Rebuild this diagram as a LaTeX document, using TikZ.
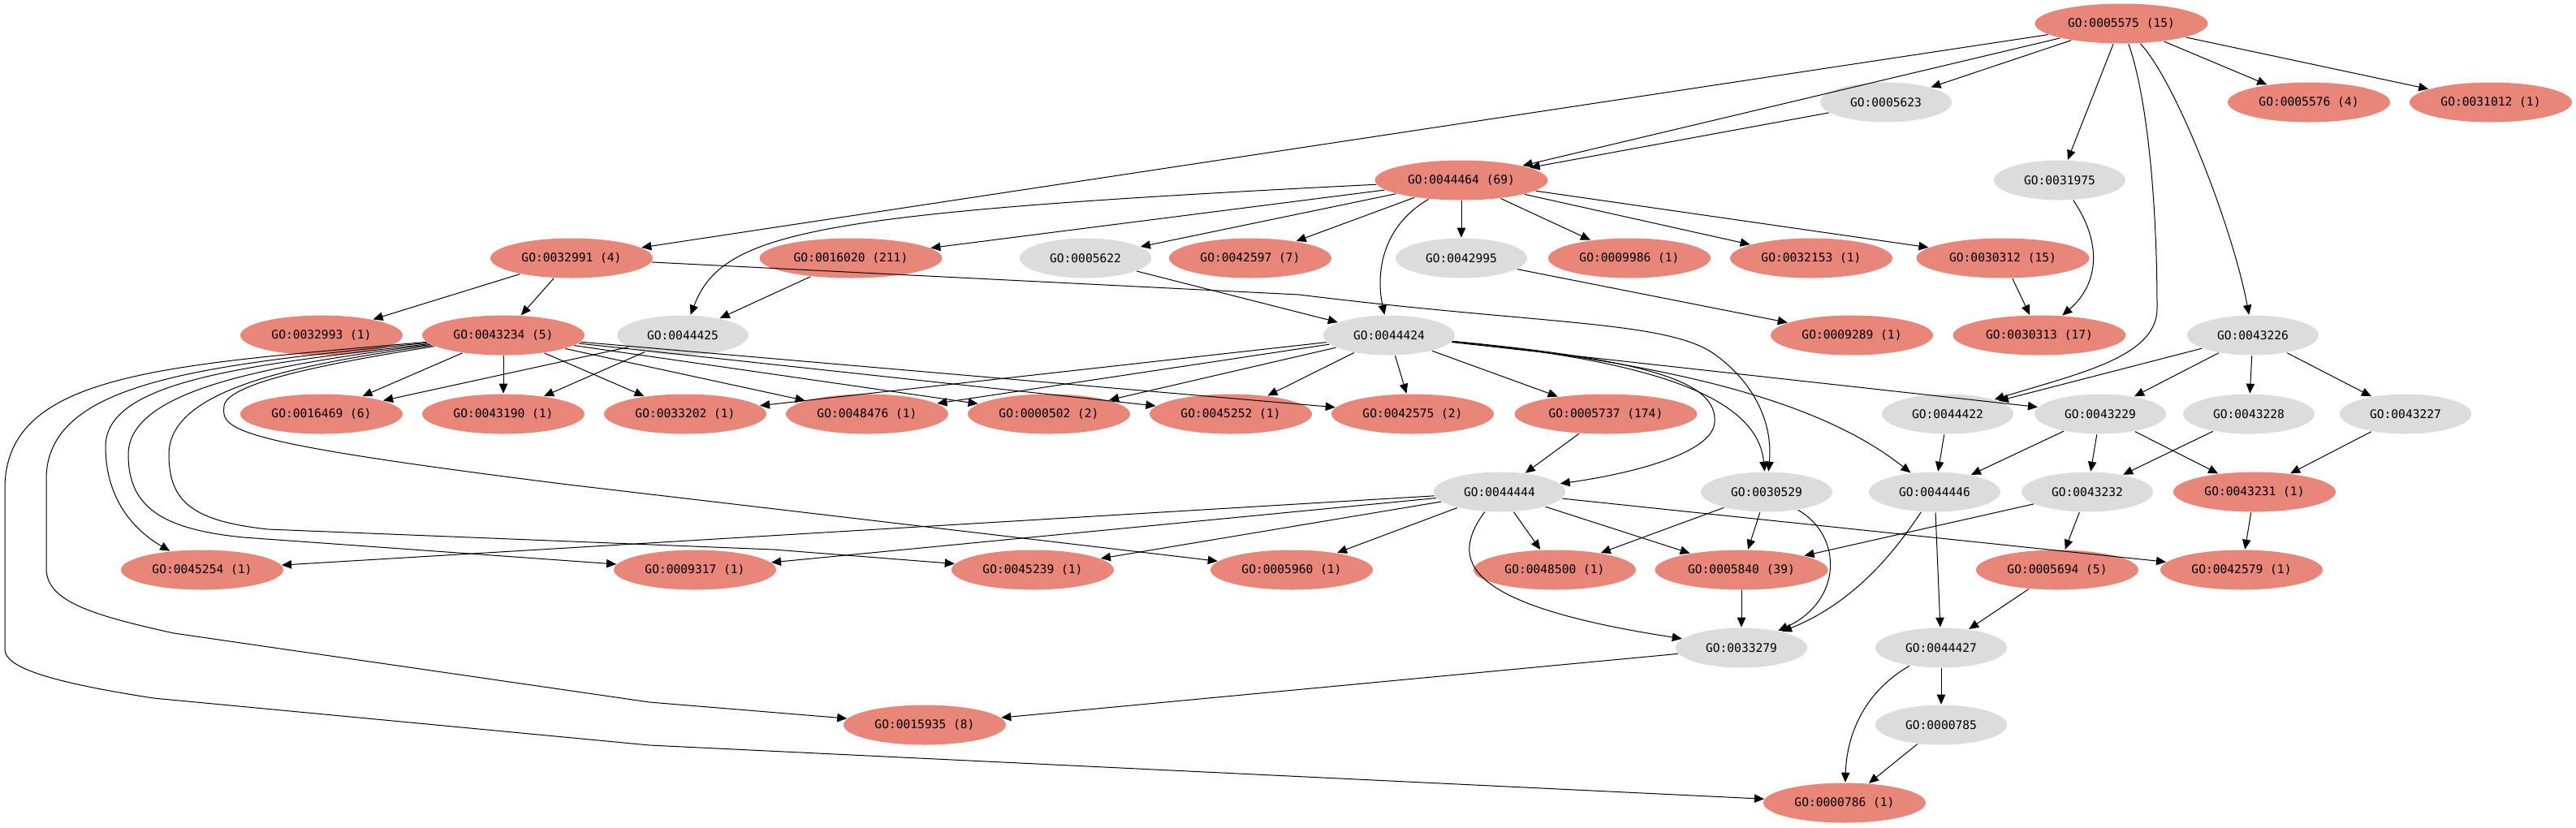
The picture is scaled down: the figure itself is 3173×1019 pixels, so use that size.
\documentclass[tikz,border=0pt]{standalone}
\usepackage{fontspec}
\newfontfamily\gomono{DejaVu Sans Mono}
\usetikzlibrary{shapes.geometric,arrows.meta}
\definecolor{salmonc}{RGB}{232,134,122}
\definecolor{grayc}{RGB}{220,220,220}
\tikzset{
  go/.style={ellipse, inner sep=0pt, minimum height=12.25pt, font=\gomono\fontsize{3.65pt}{4pt}\selectfont},
  hit/.style={go, fill=salmonc},
  plain/.style={go, fill=grayc},
  wA/.style={minimum width=40.5pt},
  wB/.style={minimum width=50pt},
  wC/.style={minimum width=53.25pt},
  wD/.style={minimum width=56.25pt},
  edge/.style={-{Triangle[length=3pt,width=2.6pt]}, line width=0.25pt, black}
}
\begin{document}
\begin{tikzpicture}[x=0.25pt,y=-0.25pt]
\useasboundingbox (0,0) rectangle (3173,1019);
% row 0
\node[hit,wC] (n5575) at (2613,29) {GO:0005575 (15)};
% row 1
\node[plain,wA] (n5623) at (2323,126) {GO:0005623};
\node[hit,wB] (n5576) at (2844,126) {GO:0005576 (4)};
\node[hit,wB] (n31012) at (3068,126) {GO:0031012 (1)};
% row 2
\node[hit,wC] (n44464) at (1800,222) {GO:0044464 (69)};
\node[plain,wA] (n31975) at (2537,222) {GO:0031975};
% row 3
\node[hit,wB] (n32991) at (704,318) {GO:0032991 (4)};
\node[hit,wD] (n16020) at (1048,318) {GO:0016020 (211)};
\node[plain,wA] (n5622) at (1337,318) {GO:0005622};
\node[hit,wB] (n42597) at (1540,318) {GO:0042597 (7)};
\node[plain,wA] (n42995) at (1800,318) {GO:0042995};
\node[hit,wB] (n9986) at (2007,318) {GO:0009986 (1)};
\node[hit,wB] (n32153) at (2231,318) {GO:0032153 (1)};
\node[hit,wC] (n30312) at (2467,318) {GO:0030312 (15)};
% row 4
\node[hit,wB] (n32993) at (396,413) {GO:0032993 (1)};
\node[hit,wB] (n43234) at (620,413) {GO:0043234 (5)};
\node[plain,wA] (n44425) at (841,413) {GO:0044425};
\node[plain,wA] (n44424) at (1711,413) {GO:0044424};
\node[hit,wB] (n9289) at (2281,413) {GO:0009289 (1)};
\node[hit,wC] (n30313) at (2512,413) {GO:0030313 (17)};
\node[plain,wA] (n43226) at (2775,413) {GO:0043226};
% row 5
\node[hit,wB] (n16469) at (396,510) {GO:0016469 (6)};
\node[hit,wB] (n43190) at (620,510) {GO:0043190 (1)};
\node[hit,wB] (n33202) at (844,510) {GO:0033202 (1)};
\node[hit,wB] (n48476) at (1068,510) {GO:0048476 (1)};
\node[hit,wB] (n502) at (1292,510) {GO:0000502 (2)};
\node[hit,wB] (n45252) at (1516,510) {GO:0045252 (1)};
\node[hit,wB] (n42575) at (1740,510) {GO:0042575 (2)};
\node[hit,wD] (n5737) at (1978,510) {GO:0005737 (174)};
\node[plain,wA] (n44422) at (2399,510) {GO:0044422};
\node[plain,wA] (n43229) at (2587,510) {GO:0043229};
\node[plain,wA] (n43228) at (2770,510) {GO:0043228};
\node[plain,wA] (n43227) at (2963,510) {GO:0043227};
% row 6
\node[plain,wA] (n44444) at (1847,606) {GO:0044444};
\node[plain,wA] (n30529) at (2176,606) {GO:0030529};
\node[plain,wA] (n44446) at (2383,606) {GO:0044446};
\node[plain,wA] (n43232) at (2571,606) {GO:0043232};
\node[hit,wB] (n43231) at (2777,606) {GO:0043231 (1)};
% row 7
\node[hit,wB] (n45254) at (249,702) {GO:0045254 (1)};
\node[hit,wB] (n9317) at (856,702) {GO:0009317 (1)};
\node[hit,wB] (n45239) at (1272,702) {GO:0045239 (1)};
\node[hit,wB] (n5960) at (1591,702) {GO:0005960 (1)};
\node[hit,wB] (n48500) at (1915,702) {GO:0048500 (1)};
\node[hit,wC] (n5840) at (2145,702) {GO:0005840 (39)};
\node[hit,wB] (n5694) at (2534,702) {GO:0005694 (5)};
\node[hit,wB] (n42579) at (2761,702) {GO:0042579 (1)};
% row 8
\node[plain,wA] (n33279) at (2145,798) {GO:0033279};
\node[plain,wA] (n44427) at (2391,798) {GO:0044427};
% row 9
\node[hit,wB] (n15935) at (1139,893) {GO:0015935 (8)};
\node[plain,wA] (n785) at (2391,893) {GO:0000785};
% row 10
\node[hit,wB] (n786) at (2272,989) {GO:0000786 (1)};

% ---- edges ----
% root
\draw[edge] (n5575) -- (n32991);
\draw[edge] (n5575) -- (n44464);
\draw[edge] (n5575) -- (n5623);
\draw[edge] (n5575) -- (n31975);
\draw[edge] (n5575) .. controls (2645,120) and (2657,250) .. (2657,380) .. controls (2657,440) and (2560,460) .. (n44422);
\draw[edge] (n5575) .. controls (2680,100) and (2750,280) .. (n43226);
\draw[edge] (n5575) -- (n5576);
\draw[edge] (n5575) -- (n31012);
\draw[edge] (n5623) -- (n44464);
\draw[edge] (n31975) .. controls (2590,300) and (2585,350) .. (n30313);
\draw[edge] (n30312) -- (n30313);
% 44464
\draw[edge] (n44464) .. controls (1000,262) and (890,285) .. (n44425);
\draw[edge] (n44464) -- (n16020);
\draw[edge] (n44464) -- (n5622);
\draw[edge] (n44464) -- (n42597);
\draw[edge] (n44464) .. controls (1700,280) and (1695,340) .. (n44424);
\draw[edge] (n44464) -- (n42995);
\draw[edge] (n44464) -- (n9986);
\draw[edge] (n44464) -- (n32153);
\draw[edge] (n44464) -- (n30312);
% 32991
\draw[edge] (n32991) -- (n32993);
\draw[edge] (n32991) -- (n43234);
\draw[edge] (n32991) -- (1600,363) .. controls (1900,400) and (2050,395) .. (2110,435) .. controls (2160,470) and (2184,520) .. (n30529);
\draw[edge] (n16020) -- (n44425);
\draw[edge] (n5622) -- (n44424);
\draw[edge] (n42995) -- (n9289);
% 43234
\draw[edge] (n43234) -- (n16469);
\draw[edge] (n43234) -- (n43190);
\draw[edge] (n43234) -- (n33202);
\draw[edge] (n43234) -- (n48476);
\draw[edge] (n43234) -- (n502);
\draw[edge] (n43234) -- (n45252);
\draw[edge] (n43234) -- (n42575);
\draw[edge] (n43234) .. controls (200,450) and (8,460) .. (6,600) -- (6,800) .. controls (6,822) and (60,840) .. (189,860) -- (800,918) -- (n786);
\draw[edge] (n43234) .. controls (250,450) and (57,470) .. (57,590) -- (57,700) .. controls (57,740) and (110,757) .. (214,780) -- (800,865) -- (n15935);
\draw[edge] (n43234) .. controls (300,450) and (130,470) .. (130,550) .. controls (130,610) and (160,650) .. (n45254);
\draw[edge] (n43234) .. controls (330,450) and (158,480) .. (158,560) .. controls (158,625) and (200,652) .. (300,662) -- (n9317);
\draw[edge] (n43234) .. controls (360,450) and (208,480) .. (208,560) .. controls (208,620) and (240,642) .. (330,652) -- (953,677) -- (n45239);
\draw[edge] (n43234) .. controls (420,445) and (280,470) .. (276,500) .. controls (272,530) and (285,545) .. (700,597) -- (n5960);
\draw[edge] (n44425) -- (n16469);
\draw[edge] (n44425) -- (n43190);
% 44424
\draw[edge] (n44424) -- (n33202);
\draw[edge] (n44424) -- (n48476);
\draw[edge] (n44424) -- (n502);
\draw[edge] (n44424) -- (n45252);
\draw[edge] (n44424) -- (n42575);
\draw[edge] (n44424) -- (n5737);
\draw[edge] (n44424) .. controls (2050,445) and (2115,475) .. (2112,520) .. controls (2110,560) and (2000,585) .. (n44444);
\draw[edge] (n44424) .. controls (2040,445) and (2165,490) .. (n30529);
\draw[edge] (n44424) .. controls (2080,450) and (2250,500) .. (n44446);
\draw[edge] (n44424) -- (n43229);
% 44444
\draw[edge] (n5737) -- (n44444);
\draw[edge] (n44444) -- (n45254);
\draw[edge] (n44444) -- (n9317);
\draw[edge] (n44444) -- (n45239);
\draw[edge] (n44444) -- (n5960);
\draw[edge] (n44444) -- (n48500);
\draw[edge] (n44444) -- (n5840);
\draw[edge] (n44444) -- (n42579);
\draw[edge] (n44444) .. controls (1785,690) and (1800,745) .. (n33279);
% 30529
\draw[edge] (n30529) -- (n48500);
\draw[edge] (n30529) -- (n5840);
\draw[edge] (n30529) .. controls (2270,660) and (2270,740) .. (n33279);
\draw[edge] (n5840) -- (n33279);
% right block
\draw[edge] (n44446) .. controls (2340,670) and (2290,740) .. (n33279);
\draw[edge] (n44446) -- (n44427);
\draw[edge] (n44422) -- (n44446);
\draw[edge] (n43229) -- (n44446);
\draw[edge] (n43229) -- (n43232);
\draw[edge] (n43229) -- (n43231);
\draw[edge] (n43228) -- (n43232);
\draw[edge] (n43227) -- (n43231);
\draw[edge] (n43226) -- (n44422);
\draw[edge] (n43226) -- (n43229);
\draw[edge] (n43226) -- (n43228);
\draw[edge] (n43226) -- (n43227);
\draw[edge] (n43232) -- (n5840);
\draw[edge] (n43232) -- (n5694);
\draw[edge] (n43231) -- (n42579);
\draw[edge] (n5694) -- (n44427);
\draw[edge] (n44427) -- (n785);
\draw[edge] (n44427) .. controls (2300,850) and (2275,900) .. (n786);
\draw[edge] (n785) -- (n786);
\draw[edge] (n33279) -- (n15935);
\end{tikzpicture}
\end{document}
